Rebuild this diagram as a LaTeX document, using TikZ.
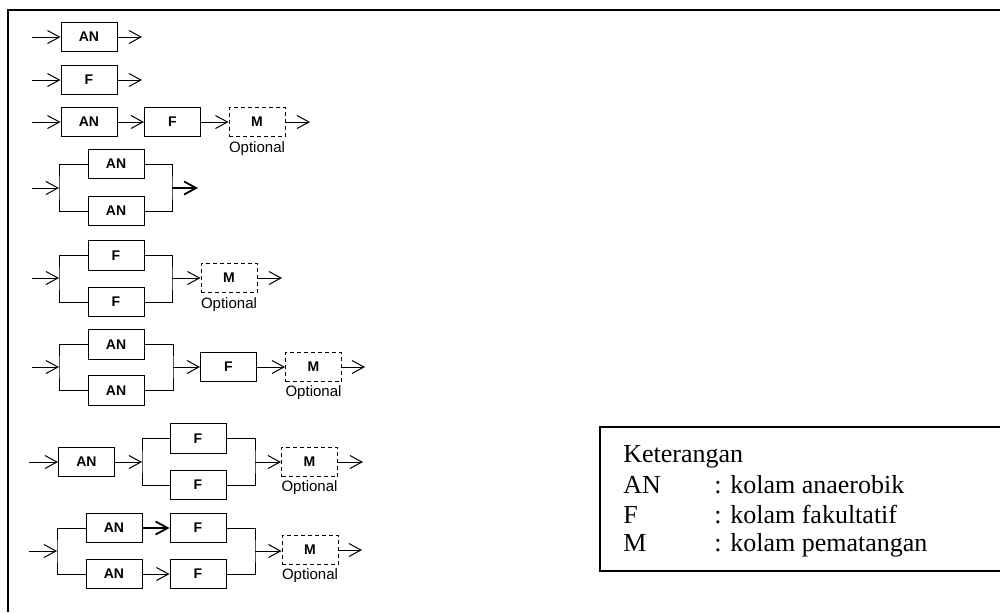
\documentclass[tikz,border=0pt]{standalone}
\usepackage{fontspec}
\setmainfont{Liberation Serif}
\setsansfont{Liberation Sans}
\usepackage{tikz}
\usetikzlibrary{calc}
\usetikzlibrary{arrows.meta}

\tikzset{
  kolam/.style={draw, line width=0.5pt, minimum width=28pt, minimum height=14.75pt,
    inner sep=0pt, font=\fontsize{7}{8}\selectfont\sffamily\bfseries},
  opsional/.style={kolam, dash pattern=on 2pt off 1.5pt},
  ket/.style={font=\fontsize{7.5}{9}\selectfont\sffamily, inner sep=0pt, anchor=north},
  legenda/.style={font=\fontsize{13}{15}\selectfont, inner sep=0pt, anchor=base west},
  alur/.style={->, line width=0.5pt},
  tepi/.style={line width=0.5pt}
}

\begin{document}
\begin{tikzpicture}[>={Straight Barb[length=6pt,width=6.5pt]}]

\begin{scope}[x=0.5pt,y=-0.5pt]
  \useasboundingbox (0,0) rectangle (1000,612);
  \draw[line width=1.3pt] (8,612) -- (8,10) -- (1000,10);

  % AN
  \coordinate (i1) at (32,37);
  \node[kolam] (an1) at (89,37) {AN};
  \coordinate (o1) at (142,37);
  \draw[alur] (i1) -- (an1);
  \draw[alur] (an1) -- (o1);

  % F
  \coordinate (i2) at (32,80);
  \node[kolam] (f2) at (89,80) {F};
  \coordinate (o2) at (142,80);
  \draw[alur] (i2) -- (f2);
  \draw[alur] (f2) -- (o2);

  % AN - F - M
  \coordinate (i3) at (32,122);
  \node[kolam] (an3) at (89,122) {AN};
  \node[kolam] (f3) at (172.5,122) {F};
  \node[opsional] (m3) at (257,122) {M};
  \node[ket] (op3) at ([yshift=-2pt]m3.south) {Optional};
  \coordinate (o3) at (310,122);
  \draw[alur] (i3) -- (an3);
  \draw[alur] (an3) -- (f3);
  \draw[alur] (f3) -- (m3);
  \draw[alur] (m3) -- (o3);

  % AN // AN
  \coordinate (i4) at (32,188);
  \coordinate (l4) at (59,188);
  \node[kolam] (an4a) at (116,164) {AN};
  \node[kolam] (an4b) at (116,211) {AN};
  \coordinate (r4) at (172,188);
  \coordinate (o4) at (198,188);
  \draw[alur] (i4) -- (l4);
  \draw[tepi] (an4a.west) -| (l4) |- (an4b.west);
  \draw[tepi] (an4a.east) -| (r4) |- (an4b.east);
  \draw[alur,line width=0.9pt] (r4) -- (o4);

  % F // F - M
  \coordinate (i5) at (32,278);
  \coordinate (l5) at (59,278);
  \node[kolam] (f5a) at (116,255.5) {F};
  \node[kolam] (f5b) at (116,302) {F};
  \coordinate (r5) at (172,278);
  \node[opsional] (m5) at (229,278) {M};
  \node[ket] (op5) at ([yshift=-2pt]m5.south) {Optional};
  \coordinate (o5) at (282,278);
  \draw[alur] (i5) -- (l5);
  \draw[tepi] (f5a.west) -| (l5) |- (f5b.west);
  \draw[tepi] (f5a.east) -| (r5) |- (f5b.east);
  \draw[alur] (r5) -- (m5);
  \draw[alur] (m5) -- (o5);

  % AN // AN - F - M
  \coordinate (i6) at (32,367);
  \coordinate (l6) at (59,367);
  \node[kolam] (an6a) at (116,344.5) {AN};
  \node[kolam] (an6b) at (116,390.5) {AN};
  \coordinate (r6) at (173,367);
  \node[kolam] (f6) at (228.5,367) {F};
  \node[opsional] (m6) at (313.5,367) {M};
  \node[ket] (op6) at ([yshift=-1.5pt]m6.south) {Optional};
  \coordinate (o6) at (365,367);
  \draw[alur] (i6) -- (l6);
  \draw[tepi] (an6a.west) -| (l6) |- (an6b.west);
  \draw[tepi] (an6a.east) -| (r6) |- (an6b.east);
  \draw[alur] (r6) -- (f6);
  \draw[alur] (f6) -- (m6);
  \draw[alur] (m6) -- (o6);

  % AN - F // F - M
  \coordinate (i7) at (29,462);
  \node[kolam] (an7) at (86.5,462) {AN};
  \coordinate (l7) at (142,462);
  \node[kolam] (f7a) at (198,438.5) {F};
  \node[kolam] (f7b) at (198,485) {F};
  \coordinate (r7) at (255,462);
  \node[opsional] (m7) at (309.5,462) {M};
  \node[ket] (op7) at ([yshift=-1.5pt]m7.south) {Optional};
  \coordinate (o7) at (363,462);
  \draw[alur] (i7) -- (an7);
  \draw[alur] (an7) -- (l7);
  \draw[tepi] (f7a.west) -| (l7) |- (f7b.west);
  \draw[tepi] (f7a.east) -| (r7) |- (f7b.east);
  \draw[alur] (r7) -- (m7);
  \draw[alur] (m7) -- (o7);

  % (AN - F) // (AN - F) - M
  \coordinate (i8) at (29,551);
  \coordinate (l8) at (57,551);
  \node[kolam] (an8a) at (114,528) {AN};
  \node[kolam] (an8b) at (114,574) {AN};
  \node[kolam] (f8a) at (198,528) {F};
  \node[kolam] (f8b) at (198,574) {F};
  \coordinate (r8) at (255,551);
  \node[opsional] (m8) at (310,550) {M};
  \node[ket] (op8) at ([yshift=-1.5pt]m8.south) {Optional};
  \coordinate (o8) at (362,550);
  \draw[alur] (i8) -- (l8);
  \draw[tepi] (an8a.west) -| (l8) |- (an8b.west);
  \draw[alur,line width=0.9pt] (an8a) -- (f8a);
  \draw[alur] (an8b) -- (f8b);
  \draw[tepi] (f8a.east) -| (r8) |- (f8b.east);
  \draw[alur] (r8) -- (r8 -| m8.west);
  \draw[alur] (m8) -- (o8);

  % keterangan
  \draw[line width=1pt] (600,427) rectangle (1010,571);
  \node[legenda] (ket) at (623,462) {Keterangan};
  \node[legenda] (kan) at (623,493) {AN};
  \node[legenda] (kanx) at (714,493) {: kolam anaerobik};
  \node[legenda] (kf) at (623,523) {F};
  \node[legenda] (kfx) at (714,523) {: kolam fakultatif};
  \node[legenda] (km) at (623,551) {M};
  \node[legenda] (kmx) at (714,551) {: kolam pematangan};
\end{scope}

\end{tikzpicture}
\end{document}
